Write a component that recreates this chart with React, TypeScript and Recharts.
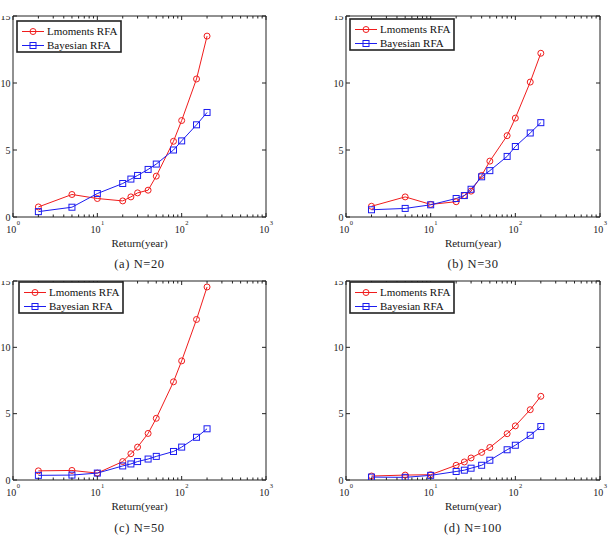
import React from 'react';
import { LineChart, Line, XAxis, YAxis } from 'recharts';

const returnPeriods = [2, 5, 10, 20, 25, 30, 40, 50, 80, 100, 150, 200];

const lmomentsN20 = [0.75, 1.68, 1.38, 1.2, 1.5, 1.8, 2.0, 3.05, 5.65, 7.2, 10.3, 13.5];
const bayesianN20 = [0.4, 0.73, 1.75, 2.5, 2.83, 3.1, 3.55, 3.95, 5.0, 5.68, 6.88, 7.8];
const lmomentsN30 = [0.8, 1.5, 0.94, 1.14, 1.6, 1.93, 3.1, 4.17, 6.07, 7.38, 10.07, 12.22];
const bayesianN30 = [0.54, 0.64, 0.91, 1.38, 1.6, 2.07, 3.0, 3.46, 4.52, 5.26, 6.27, 7.04];
const lmomentsN50 = [0.69, 0.72, 0.52, 1.39, 1.98, 2.48, 3.51, 4.65, 7.4, 8.98, 12.1, 14.55];
const bayesianN50 = [0.35, 0.37, 0.52, 1.06, 1.21, 1.39, 1.58, 1.78, 2.15, 2.48, 3.22, 3.86];
const lmomentsN100 = [0.3, 0.37, 0.4, 1.11, 1.36, 1.66, 2.08, 2.45, 3.49, 4.08, 5.3, 6.31];
const bayesianN100 = [0.22, 0.2, 0.35, 0.64, 0.74, 0.89, 1.11, 1.49, 2.28, 2.62, 3.37, 4.03];

const xTicks = [1, 2, 3, 4, 5, 6, 7, 8, 9, 10, 20, 30, 40, 50, 60, 70, 80, 90, 100, 200, 300, 400, 500, 600, 700, 800, 900, 1000];
const majorX = [1, 10, 100, 1000];
const yTicks = [0, 5, 10, 15];

const seriesNames = ['Lmoments RFA', 'Bayesian RFA'];
const captions = ['(a)  N=20', '(b)  N=30', '(c)  N=50', '(d)  N=100'];
const xLabel = 'Return(year)';

const RED = '#f01c1c';
const BLUE = '#1c1cf0';
const FONT = '"Liberation Serif", "Times New Roman", serif';

const buildRows = (a: number[], b: number[]) =>
  returnPeriods.map((t, i) => ({ t, lm: a[i], by: b[i] }));

const panels = [
  { rows: buildRows(lmomentsN20, bayesianN20), plot: [13, 16, 266, 217], legend: [16, 20], caption: captions[0], capY: 268 },
  { rows: buildRows(lmomentsN30, bayesianN30), plot: [346, 16, 600, 217], legend: [349, 18], caption: captions[1], capY: 268 },
  { rows: buildRows(lmomentsN50, bayesianN50), plot: [13, 281, 266, 480], legend: [18, 281], caption: captions[2], capY: 532 },
  { rows: buildRows(lmomentsN100, bayesianN100), plot: [346, 281, 600, 480], legend: [349, 281], caption: captions[3], capY: 532 },
];

const BottomTick = (props: any) => {
  const { x, y, payload } = props;
  const v = payload.value;
  const major = majorX.includes(v);
  const len = major ? 4 : 2.5;
  const exp = Math.round(Math.log10(v));
  return (
    <g>
      <line x1={x} y1={y} x2={x} y2={y - len} stroke="#222" strokeWidth={1} />
      {major && (
        <text x={x} y={y + 16} textAnchor="middle" fontFamily={FONT} fontSize={10} fill="#222">
          10
          <tspan dx={0.5} dy={-8} fontSize={6.5}>{exp}</tspan>
        </text>
      )}
    </g>
  );
};

const TopTick = (props: any) => {
  const { x, y, payload } = props;
  const major = majorX.includes(payload.value);
  const len = major ? 4 : 2.5;
  return <line x1={x} y1={y} x2={x} y2={y + len} stroke="#222" strokeWidth={1} />;
};

const LeftTick = (props: any) => {
  const { x, y, payload } = props;
  return (
    <g>
      <line x1={x} y1={y} x2={x + 4} y2={y} stroke="#222" strokeWidth={1} />
      <text x={x - 2.5} y={y} dy="0.35em" textAnchor="end" fontFamily={FONT} fontSize={10} fill="#222">
        {payload.value}
      </text>
    </g>
  );
};

const RightTick = (props: any) => {
  const { x, y } = props;
  return <line x1={x} y1={y} x2={x - 4} y2={y} stroke="#222" strokeWidth={1} />;
};

const CircleDot = (props: any) => {
  const { cx, cy, index } = props;
  if (cx == null || cy == null) return <g key={index} />;
  return <circle key={index} cx={cx} cy={cy} r={3} stroke={RED} strokeWidth={1} fill="none" />;
};

const SquareDot = (props: any) => {
  const { cx, cy, index } = props;
  if (cx == null || cy == null) return <g key={index} />;
  return <rect key={index} x={cx - 3} y={cy - 3} width={6} height={6} stroke={BLUE} strokeWidth={1} fill="none" />;
};

const LegendBox = ({ left, top }: { left: number; top: number }) => (
  <svg width={106} height={34} style={{ position: 'absolute', left, top }}>
    <rect x={1} y={1} width={104} height={31} fill="#fff" stroke="#222" strokeWidth={1.6} />
    <line x1={6} y1={11.5} x2={28} y2={11.5} stroke={RED} strokeWidth={1} />
    <circle cx={17} cy={11.5} r={3} stroke={RED} strokeWidth={1} fill="none" />
    <text x={31} y={11.5} dy="0.35em" fontFamily={FONT} fontSize={11} fill="#111">{seriesNames[0]}</text>
    <line x1={6} y1={25.5} x2={28} y2={25.5} stroke={BLUE} strokeWidth={1} />
    <rect x={14} y={22.5} width={6} height={6} stroke={BLUE} strokeWidth={1} fill="none" />
    <text x={31} y={25.5} dy="0.35em" fontFamily={FONT} fontSize={11} fill="#111">{seriesNames[1]}</text>
  </svg>
);

const Panel = ({ p }: { p: any }) => {
  const [x0, y0, x1, y1] = p.plot;
  const pw = x1 - x0;
  const ph = y1 - y0;
  const W = pw + 80;
  const H = ph + 76;
  return (
    <>
      <div style={{ position: 'absolute', left: x0 - 40, top: y0 - 16 }}>
        <LineChart width={W} height={H} data={p.rows} margin={{ top: 15, right: 39, bottom: 20, left: 0 }}>
          <XAxis
            dataKey="t"
            type="number"
            scale="log"
            domain={[1, 1000]}
            allowDataOverflow
            ticks={xTicks}
            interval={0}
            height={40}
            tickSize={0}
            tickMargin={0}
            tickLine={false}
            axisLine={{ stroke: '#222', strokeWidth: 1 }}
            tick={(props: any) => <BottomTick {...props} />}
          />
          <XAxis
            xAxisId="top"
            orientation="top"
            dataKey="t"
            type="number"
            scale="log"
            domain={[1, 1000]}
            allowDataOverflow
            ticks={xTicks}
            interval={0}
            height={1}
            tickSize={0}
            tickMargin={0}
            tickLine={false}
            axisLine={{ stroke: '#222', strokeWidth: 1 }}
            tick={(props: any) => <TopTick {...props} />}
          />
          <YAxis
            type="number"
            domain={[0, 15]}
            allowDataOverflow
            ticks={yTicks}
            interval={0}
            width={40}
            tickSize={0}
            tickMargin={0}
            tickLine={false}
            axisLine={{ stroke: '#222', strokeWidth: 1 }}
            tick={(props: any) => <LeftTick {...props} />}
          />
          <YAxis
            yAxisId="right"
            orientation="right"
            type="number"
            domain={[0, 15]}
            allowDataOverflow
            ticks={yTicks}
            interval={0}
            width={1}
            tickSize={0}
            tickMargin={0}
            tickLine={false}
            axisLine={{ stroke: '#222', strokeWidth: 1 }}
            tick={(props: any) => <RightTick {...props} />}
          />
          <Line
            dataKey="lm"
            stroke={RED}
            strokeWidth={1}
            dot={(props: any) => <CircleDot {...props} />}
            isAnimationActive={false}
          />
          <Line
            dataKey="by"
            stroke={BLUE}
            strokeWidth={1}
            dot={(props: any) => <SquareDot {...props} />}
            isAnimationActive={false}
          />
        </LineChart>
      </div>
      <div style={{ position: 'absolute', left: x0 - 15, top: y0 - 10, width: 14, height: 10, background: '#fff' }} />
      <LegendBox left={p.legend[0]} top={p.legend[1]} />
      <div
        style={{
          position: 'absolute',
          left: x0,
          width: pw,
          top: y1 + 20,
          textAlign: 'center',
          fontFamily: FONT,
          fontSize: 11,
          lineHeight: '12px',
          color: '#222',
        }}
      >
        {xLabel}
      </div>
      <div
        style={{
          position: 'absolute',
          left: x0,
          width: pw,
          top: p.capY - 11,
          textAlign: 'center',
          fontFamily: FONT,
          fontSize: 12.5,
          lineHeight: '14px',
          letterSpacing: '0.6px',
          color: '#222',
        }}
      >
        {p.caption}
      </div>
    </>
  );
};

export default function App() {
  return (
    <div style={{ position: 'fixed', left: 0, top: 0, width: 610, height: 536, overflow: 'hidden', background: '#fff' }}>
      {panels.map((p, i) => (
        <Panel key={i} p={p} />
      ))}
    </div>
  );
}
